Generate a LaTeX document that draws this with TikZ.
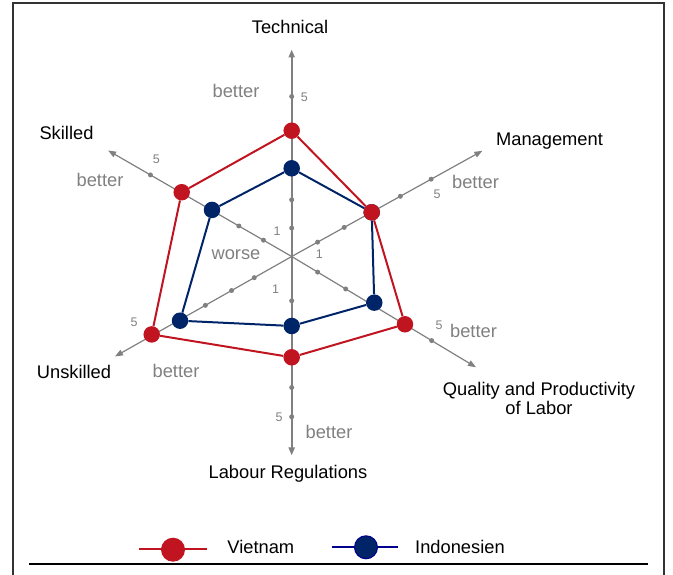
\documentclass[tikz,border=0pt]{standalone}
\usepackage{fontspec}
\setmainfont{Liberation Sans}
\usetikzlibrary{arrows.meta}
\definecolor{vnred}{RGB}{192,20,32}
\definecolor{idblue}{RGB}{0,36,104}
\definecolor{idline}{RGB}{0,0,140}
\definecolor{axgray}{RGB}{128,128,128}
\tikzset{
  lbl/.style={font=\fontsize{18.3}{19}\selectfont},
  softlbl/.style={font=\fontsize{18.3}{19}\selectfont,text=axgray},
  num/.style={font=\fontsize{12.5}{14}\selectfont,text=axgray,inner sep=1pt},
  tickdot/.style={circle,fill=axgray,inner sep=0pt,minimum size=5pt},
  vdot/.style={circle,fill=vnred,inner sep=0pt,minimum size=16.5pt},
  idot/.style={circle,fill=idblue,inner sep=0pt,minimum size=16.5pt},
}
\begin{document}
\begin{tikzpicture}[x=1pt,y=1pt]
  \useasboundingbox (-291.7,-318.5) rectangle (381.3,256.5);
  % frame
  \draw[line width=2pt,black!80] (-278.2,-318.5) -- (-278.2,253.5) -- (372.3,253.5) -- (372.3,-318.5);
  \draw[line width=2pt] (-262.7,-307.8) -- (356.3,-307.8);
  \coordinate (O) at (0,0);
  % axes
  \foreach \n/\a/\l/\w in {T/90/207/2pt, M/29/218/1.2pt, Q/-31/215/1.2pt, L/-90/199/2pt, U/209.5/203/1.2pt, S/150/212/1.2pt}{
    \coordinate (A\n) at (\a:\l);
    \draw[axgray,line width=\w,-{Triangle[length=8pt,width=6pt]}] (O) -- (A\n);
  }
  \foreach \n/\a/\ticks in {T/90/{28.4,56.7,88,126,160}, M/29/{29.6,60,91,124.2,159.4}, Q/-31/{30.3,63,94,131,163.3},
      L/-90/{44.3,73,101.6,131,160.3}, U/209.5/{43,69.1,99.2,129.6,161}, S/150/{32.6,61,93,128,163.1}}{
    \foreach \d [count=\i] in \ticks
      \node[tickdot] (\n\i) at (\a:\d) {};
  }
  \foreach \t/\dx/\dy/\s in {T1/-14.5/-2.7/1, T5/12.6/-0.8/5, M1/1.7/-12/1, M5/6/-14.7/5, Q5/7.4/15.7/5,
      L1/-16/11.7/1, L5/-12.7/-0.3/5, U5/-17.4/13.3/5, S5/6/15.4/5}
    \node[num] (n\t) at ([shift={(\dx,\dy)}]\t) {\s};
  % better / worse
  \foreach \n/\x/\y in {T/-55.7/165.8, M/183.8/74.8, Q/181.8/-74.2, L/37.3/-175.5, U/-115.7/-114.2, S/-191.7/76.5}
    \node[softlbl] (b\n) at (\x,\y) {better};
  \node[softlbl] (worse) at (-55.7,1.5) {worse};
  % axis names
  \node[lbl] (tech) at (-1.7,229.8) {Technical};
  \node[lbl] (mgmt) at (257.8,115.8) {Management};
  \node[lbl,align=center] (qual) at (247.3,-141.5) {Quality and Productivity\\of Labor};
  \node[lbl] (labour) at (-3.7,-217.5) {Labour Regulations};
  \node[lbl] (unsk) at (-217.7,-115.2) {Unskilled};
  \node[lbl] (skill) at (-225.2,123.2) {Skilled};
  % Indonesien
  \foreach \a/\r [count=\i] in {90/88.2, 28.9/91.4, -29.2/94.6, -90/69.5, 209.9/128.8, 149.7/92.3}
    \node[idot] (I\i) at (\a:\r) {};
  \foreach \x/\y in {I1/I2,I2/I3,I3/I4,I4/I5,I5/I6,I6/I1}
    \draw[idblue,line width=2pt] (\x) -- (\y);
  % Vietnam
  \foreach \a/\r [count=\i] in {90/125.8, 28.9/91.4, -30.9/132, -90/100.8, 209.1/160.2, 149.7/127.4}
    \node[vdot] (V\i) at (\a:\r) {};
  \foreach \x/\y in {V1/V2,V2/V3,V3/V4,V4/V5,V5/V6,V6/V1}
    \draw[vnred,line width=2pt] (\x) -- (\y);
  % legend
  \coordinate (lVa) at (-152.7,-292.8);
  \coordinate (lVb) at (-84.7,-292.8);
  \draw[vnred,line width=2.3pt] (lVa) -- (lVb);
  \node[vdot,minimum size=24pt] (lV) at (-118.7,-293.2) {};
  \node[lbl,anchor=west,inner sep=0pt] (tV) at (-64.5,-290) {Vietnam};
  \coordinate (lIa) at (40.3,-290.8);
  \coordinate (lIb) at (106.3,-290.8);
  \draw[idline,line width=2.3pt] (lIa) -- (lIb);
  \node[idot,draw=idline,line width=1pt,minimum size=23pt] (lI) at (74.3,-290.8) {};
  \node[lbl,anchor=west,inner sep=0pt] (tI) at (123.3,-290) {Indonesien};
\end{tikzpicture}
\end{document}
